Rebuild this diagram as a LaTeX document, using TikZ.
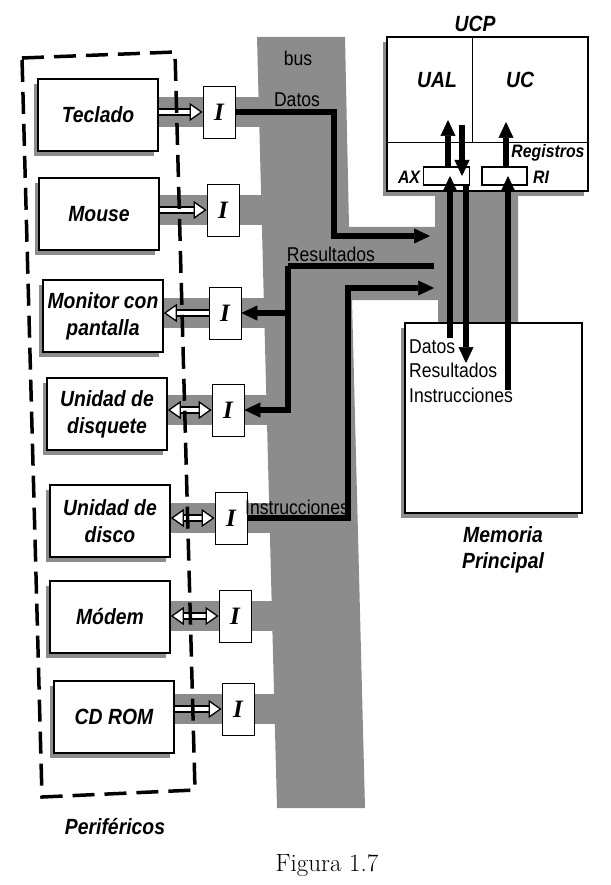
\documentclass[tikz,border=0pt]{standalone}
\usepackage{fontspec}
\setsansfont[FakeStretch=0.88]{Liberation Sans}
\newfontfamily\serifI{Liberation Serif}
\usepackage{tikz}
\usetikzlibrary{calc,positioning,arrows.meta,shadows,backgrounds}
\tikzset{hollow/.tip={Triangle[fill=white, length=13pt, width=18pt, line width=1.3pt]}}
\tikzset{shd/.style={drop shadow={shadow xshift=-4pt, shadow yshift=-5pt, fill=black!45, opacity=1}}}

\begin{document}
\begin{tikzpicture}[
  x=1pt,y=-1pt,
  font=\sffamily,
  >={Triangle[length=16pt,width=15pt,line width=0.5pt]},
  per/.style={draw, line width=1.6pt, fill=white, shd, minimum width=120pt, minimum height=72pt,
              align=center, inner sep=2pt, font=\sffamily\bfseries\itshape\fontsize{22}{27}\selectfont},
  ibox/.style={draw, line width=0.8pt, fill=white, minimum width=32pt, minimum height=52pt,
               inner sep=0pt, font=\serifI\bfseries\itshape\fontsize{25}{25}\selectfont},
  band/.style={fill=black!45},
  hol/.style={line width=1.3pt, double=white, double distance=4.5pt},
  bus/.style={line width=6pt, line join=miter, ->},
  lbl/.style={font=\sffamily\fontsize{20}{24}\selectfont, inner sep=1pt},
  bi/.style={font=\sffamily\bfseries\itshape\fontsize{22}{26}\selectfont, align=center, inner sep=1pt},
  bis/.style={font=\sffamily\bfseries\itshape\fontsize{18}{20}\selectfont, inner sep=1pt},
  box/.style={draw, line width=1.6pt, fill=white, shd},
  reg/.style={draw, line width=1.2pt, fill=white, minimum width=46pt, minimum height=18pt, inner sep=0pt},
  perif/.style={line width=3.5pt, dash pattern=on 22pt off 10pt}
]
  \useasboundingbox (0,0) rectangle (610,885);

  % peripherals
  \node[per] (tec) at (98,115) {Teclado};
  \node[per] (mou) at (99,214) {Mouse};
  \node[per] (mon) at (103,316) {Monitor con\\pantalla};
  \node[per] (dsq) at (107,414) {Unidad de\\disquete};
  \node[per] (dsc) at (110,521) {Unidad de\\disco};
  \node[per] (mod) at (110,617) {Módem};
  \node[per] (cdr) at (114,717) {CD ROM};

  % interfaces
  \node[ibox] (itec) at (219,112) {I};
  \node[ibox] (imou) at (223,210) {I};
  \node[ibox] (imon) at (225,313) {I};
  \node[ibox] (idsq) at (228,410) {I};
  \node[ibox] (idsc) at (231,518) {I};
  \node[ibox] (imod) at (235,616) {I};
  \node[ibox] (icdr) at (238,709) {I};

  % bus and links
  \begin{scope}[on background layer]
    \fill[band] (257,37) -- (345,37) -- (349,227) -- (435,227) -- (435,190) -- (518,190)
      -- (518,325) -- (438,325) -- (438,300) -- (352,300) -- (365,808) -- (277,808) -- cycle;
    \foreach \p in {tec,mou,mon,dsq,dsc,mod,cdr}
      \fill[band] ($(\p.east |- i\p)+(-5,-15)$) rectangle ($(i\p)+(50,15)$);
  \end{scope}

  \draw[hol,-hollow] (tec.east |- itec) -- (itec.west);
  \draw[hol,-hollow] (mou.east |- imou) -- (imou.west);
  \draw[hol,hollow-] (mon.east |- imon) -- (imon.west);
  \draw[hol,hollow-hollow] (dsq.east |- idsq) -- (idsq.west);
  \draw[hol,hollow-hollow] (dsc.east |- idsc) -- (idsc.west);
  \draw[hol,hollow-hollow] (mod.east |- imod) -- (imod.west);
  \draw[hol,-hollow] (cdr.east |- icdr) -- (icdr.west);

  \draw[perif] (22,58) -- (175,52) -- (195,790) -- (42,797) -- cycle;
  \node[bi] (lper) at (115,827) {Periféricos};

  % CPU
  \node[box, minimum width=201pt, minimum height=154pt] (ucp) at (487.5,114) {};
  \draw[line width=0.6pt] (ucp.west |- 0,142) -- (ucp.east |- 0,142);
  \draw[line width=0.6pt] (472,0 |- ucp.north) -- (472,142);
  \node[bi] (lucp) at (475,24) {UCP};
  \node[bi] (ual) at (437,80) {UAL};
  \node[bi] (uc) at (520,80) {UC};
  \node[bis] (lreg) at (548,153) {Registros};
  \node[reg] (ax) at (446.5,176) {};
  \node[reg, minimum width=45pt] (ri) at (504.5,176) {};
  \node[bis] (lax) at (409,177) {AX};
  \node[bis] (lri) at (541,177) {RI};

  % memory
  \node[box, minimum width=177pt, minimum height=190pt] (mem) at (493.5,418) {};
  \node[lbl, anchor=west] (mdat) at (408,347) {Datos};
  \node[lbl, anchor=west] (mres) at (408,370) {Resultados};
  \node[lbl, anchor=west] (mins) at (408,395) {Instrucciones};
  \node[bi] (lmem) at (503,550) {Memoria\\Principal};

  % bus lines
  \node[lbl] (lbus) at (298,58) {bus};
  \node[lbl, anchor=south] (ldat) at (297,108) {Datos};
  \node[lbl, anchor=south] (lres) at (331,263) {Resultados};
  \node[lbl, anchor=south] (lins) at (297,516) {Instrucciones};

  \coordinate (datbend) at (334,236);
  \coordinate (dattip) at (430,236);
  \draw[bus] (itec.east) -| (datbend) -- (dattip);

  \coordinate (resend) at (434,266);
  \coordinate (resbend) at (288,266);
  \draw[bus, -] (resend) -- (resbend);
  \draw[bus] (resbend) |- (idsq.east);
  \draw[bus] (resbend |- imon.east) -- (imon.east);

  \coordinate (insbend) at (348,288);
  \coordinate (instip) at (434,288);
  \draw[bus] (idsc.east) -| (insbend) -- (instip);

  % CPU <-> memory
  \coordinate (dbot) at (450,338);
  \coordinate (ualin) at (448,120);
  \coordinate (ualout) at (462,125);
  \coordinate (rtip) at (466,363);
  \coordinate (ibot) at (508,390);
  \coordinate (ucin) at (506,122);
  \draw[bus] (dbot) -- (dbot |- ax.center);
  \draw[bus] (ax.north -| ualin) -- (ualin);
  \draw[bus] (ualout) -- (ualout |- ax.center);
  \draw[bus] (ax.south -| rtip) -- (rtip);
  \draw[bus] (ibot) -- (ibot |- ri.center);
  \draw[bus] (ri.north -| ucin) -- (ucin);

  \node[font=\rmfamily\fontsize{25}{28}\selectfont] (fig) at (327,866) {Figura 1.7};
\end{tikzpicture}
\end{document}
